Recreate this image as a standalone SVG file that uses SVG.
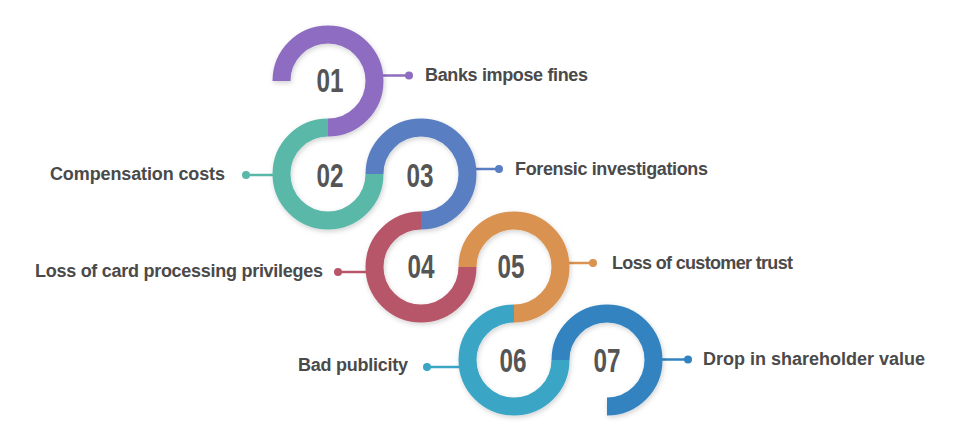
<svg xmlns="http://www.w3.org/2000/svg" width="965" height="447" viewBox="0 0 965 447">
  <defs>
    <filter id="shadow" x="-20%" y="-20%" width="140%" height="140%">
      <feDropShadow dx="1" dy="2" stdDeviation="2.5" flood-color="#000" flood-opacity="0.18"/>
    </filter>
  </defs>
  <style>
    .ring { fill: none; stroke-width: 18; stroke-linecap: butt; }
    .num { font-family: "Liberation Sans", Arial, sans-serif; font-weight: bold; font-size: 34px; fill: #555555; text-anchor: middle; }
    .lbl { font-family: "Liberation Sans", Arial, sans-serif; font-weight: bold; font-size: 18px; fill: #4a4a4a; }
    .conn { stroke-width: 2.5; fill: none; }
  </style>
  <rect width="965" height="447" fill="#ffffff"/>

  <g id="connectors">
    <line class="conn" x1="383" y1="75.5" x2="409" y2="75.5" stroke="#8d6cc1"/>
    <circle cx="409" cy="75.5" r="4" fill="#8d6cc1"/>
    <line class="conn" x1="273" y1="175" x2="246" y2="175" stroke="#5ab8a9"/>
    <circle cx="246" cy="175" r="4" fill="#5ab8a9"/>
    <line class="conn" x1="476" y1="169" x2="499" y2="169" stroke="#5a7ec2"/>
    <circle cx="499" cy="169" r="4" fill="#5a7ec2"/>
    <line class="conn" x1="366" y1="272" x2="338" y2="272" stroke="#b85669"/>
    <circle cx="338" cy="272" r="4" fill="#b85669"/>
    <line class="conn" x1="569" y1="263" x2="593" y2="263" stroke="#d9924f"/>
    <circle cx="593" cy="263" r="4" fill="#d9924f"/>
    <line class="conn" x1="459" y1="367" x2="427" y2="367" stroke="#3ba5c5"/>
    <circle cx="427" cy="367" r="4" fill="#3ba5c5"/>
    <line class="conn" x1="662" y1="359.5" x2="688" y2="359.5" stroke="#3283bf"/>
    <circle cx="688" cy="359.5" r="4" fill="#3283bf"/>
  </g>

  <g id="rings" filter="url(#shadow)">
    <path class="ring" stroke="#8d6cc1" d="M 281.5 81 A 46.5 46.5 0 1 1 328 127.5"/>
    <path class="ring" stroke="#5ab8a9" d="M 328 127.5 A 46.5 46.5 0 1 0 374.5 174"/>
    <path class="ring" stroke="#5a7ec2" d="M 374.5 174 A 46.5 46.5 0 1 1 421 220.5"/>
    <path class="ring" stroke="#b85669" d="M 421 220.5 A 46.5 46.5 0 1 0 467.5 267"/>
    <path class="ring" stroke="#d9924f" d="M 467.5 267 A 46.5 46.5 0 1 1 514 313.5"/>
    <path class="ring" stroke="#3ba5c5" d="M 514 313.5 A 46.5 46.5 0 1 0 560.5 360"/>
    <path class="ring" stroke="#3283bf" d="M 560.5 360 A 46.5 46.5 0 1 1 607 406.5"/>
  </g>

  <g id="node-01">
    <text class="num" x="330" y="92" textLength="27" lengthAdjust="spacingAndGlyphs">01</text>
    <text class="lbl" x="425" y="81" textLength="163" lengthAdjust="spacing">Banks impose fines</text>
  </g>
  <g id="node-02">
    <text class="num" x="330" y="187" textLength="27" lengthAdjust="spacingAndGlyphs">02</text>
    <text class="lbl" x="50" y="180" textLength="175" lengthAdjust="spacing">Compensation costs</text>
  </g>
  <g id="node-03">
    <text class="num" x="420" y="187" textLength="27" lengthAdjust="spacingAndGlyphs">03</text>
    <text class="lbl" x="515" y="175" textLength="193" lengthAdjust="spacing">Forensic investigations</text>
  </g>
  <g id="node-04">
    <text class="num" x="421" y="278" textLength="27" lengthAdjust="spacingAndGlyphs">04</text>
    <text class="lbl" x="35" y="277" textLength="288" lengthAdjust="spacing">Loss of card processing privileges</text>
  </g>
  <g id="node-05">
    <text class="num" x="511" y="278" textLength="27" lengthAdjust="spacingAndGlyphs">05</text>
    <text class="lbl" x="612" y="269" textLength="181" lengthAdjust="spacing">Loss of customer trust</text>
  </g>
  <g id="node-06">
    <text class="num" x="513" y="372" textLength="27" lengthAdjust="spacingAndGlyphs">06</text>
    <text class="lbl" x="298" y="371" textLength="110" lengthAdjust="spacing">Bad publicity</text>
  </g>
  <g id="node-07">
    <text class="num" x="607" y="372" textLength="27" lengthAdjust="spacingAndGlyphs">07</text>
    <text class="lbl" x="703" y="365" textLength="222" lengthAdjust="spacing">Drop in shareholder value</text>
  </g>
</svg>
